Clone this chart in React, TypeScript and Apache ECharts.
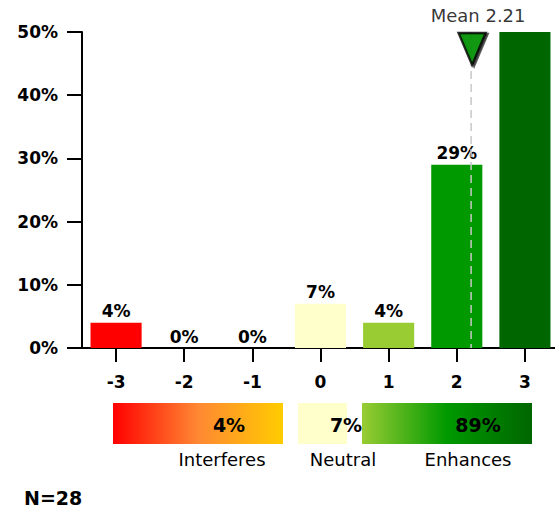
import React, { useEffect, useRef } from 'react';
import * as echarts from 'echarts';

// ---- data ----
const categories = ['-3', '-2', '-1', '0', '1', '2', '3'];
const percentValues = [4, 0, 0, 7, 4, 29, 57];
const meanValue = 2.21;
const summaryLabels = ['Interferes', 'Neutral', 'Enhances'];
const summaryValues = [4, 7, 89];
const sampleSize = 28;
const yMin = 0;
const yMax = 50;
const yInterval = 10;

// ---- styles ----
const barColors = ['#ff0000', '#ff6600', '#ffaa00', '#ffffcc', '#99cc33', '#009900', '#006600'];
const FONT = 'DejaVu Sans';

export default function App() {
  const ref = useRef<HTMLDivElement>(null);

  useEffect(() => {
    document.body.style.margin = '0';
    if (!ref.current) return;
    const chart = echarts.init(ref.current, null, { renderer: 'svg' });

    const barData = percentValues.map((v, i) => ({
      value: v,
      itemStyle: { color: barColors[i] },
      label: v > yMax ? { show: false } : undefined,
    }));

    const summaryBoxes = [
      { x: 113, w: 170, fill: new echarts.graphic.LinearGradient(0, 0, 1, 0, [
        { offset: 0, color: '#ff0000' },
        { offset: 0.5, color: '#ff8833' },
        { offset: 1, color: '#ffcc00' },
      ]), valueX: 229, labelX: 222 },
      { x: 298, w: 49, fill: '#ffffcc', valueX: 346, labelX: 343 },
      { x: 362, w: 170, fill: new echarts.graphic.LinearGradient(0, 0, 1, 0, [
        { offset: 0, color: '#99cc33' },
        { offset: 0.5, color: '#009900' },
        { offset: 1, color: '#006600' },
      ]), valueX: 478, labelX: 468 },
    ];

    const graphics: any[] = [];
    summaryBoxes.forEach((b) => {
      graphics.push({
        type: 'rect',
        shape: { x: b.x, y: 403, width: b.w, height: 41 },
        style: { fill: b.fill },
        z: 1,
      });
    });
    summaryBoxes.forEach((b, i) => {
      graphics.push({
        type: 'text',
        x: b.valueX,
        y: 425,
        style: {
          text: summaryValues[i] + '%',
          fontFamily: FONT,
          fontWeight: 'bold',
          fontSize: 19,
          fill: '#000',
          align: 'center',
          verticalAlign: 'middle',
        },
        z: 2,
      });
      graphics.push({
        type: 'text',
        x: b.labelX,
        y: 459,
        style: {
          text: summaryLabels[i],
          fontFamily: FONT,
          fontSize: 18,
          fill: '#000',
          align: 'center',
          verticalAlign: 'middle',
        },
        z: 2,
      });
    });
    graphics.push({
      type: 'text',
      x: 24,
      y: 498,
      style: {
        text: 'N=' + sampleSize,
        fontFamily: FONT,
        fontWeight: 'bold',
        fontSize: 19,
        fill: '#000',
        align: 'left',
        verticalAlign: 'middle',
      },
    });

    chart.setOption({
      animation: false,
      backgroundColor: '#ffffff',
      grid: { left: 82, top: 32, width: 477, height: 316, containLabel: false, outerBoundsMode: 'none' },
      xAxis: [
        {
          type: 'category',
          data: categories,
          axisLine: { show: true, onZero: false, lineStyle: { color: '#000', width: 2 } },
          axisTick: { show: true, alignWithLabel: true, length: 14, lineStyle: { color: '#000', width: 2 } },
          axisLabel: {
            margin: 25,
            color: '#000',
            fontFamily: FONT,
            fontWeight: 'bold',
            fontSize: 17,
          },
          splitLine: { show: false },
        },
        {
          type: 'value',
          min: -3.5,
          max: 3.5,
          show: false,
          splitLine: { show: false },
        },
      ],
      yAxis: {
        type: 'value',
        min: yMin,
        max: yMax,
        interval: yInterval,
        axisLine: { show: true, onZero: false, lineStyle: { color: '#000', width: 2 } },
        axisTick: { show: true, length: 15, lineStyle: { color: '#000', width: 2 } },
        axisLabel: {
          formatter: '{value}%',
          margin: 24,
          color: '#000',
          fontFamily: FONT,
          fontWeight: 'bold',
          fontSize: 17,
        },
        splitLine: { show: false },
      },
      series: [
        {
          type: 'bar',
          data: barData,
          barWidth: '75%',
          clip: true,
          label: {
            show: true,
            position: 'top',
            distance: 3,
            formatter: '{c}%',
            color: '#000',
            fontFamily: FONT,
            fontWeight: 'bold',
            fontSize: 17,
          },
        },
        {
          type: 'line',
          xAxisIndex: 1,
          data: [[meanValue, yMax], [meanValue, yMin]],
          symbol: 'none',
          lineStyle: { color: '#c8c8c8', width: 1.5, type: [8, 5] },
          z: 3,
        },
        {
          type: 'scatter',
          xAxisIndex: 1,
          data: [[meanValue, yMax]],
          symbol: 'triangle',
          symbolRotate: 180,
          symbolSize: [27, 32],
          symbolOffset: [1, 17],
          clip: false,
          itemStyle: {
            color: '#009900',
            borderColor: '#000',
            borderWidth: 2.5,
            shadowColor: 'rgba(0,0,0,0.8)',
            shadowBlur: 2,
            shadowOffsetX: 2,
            shadowOffsetY: 1,
          },
          label: {
            show: true,
            position: 'top',
            distance: 7,
            offset: [6, 0],
            formatter: 'Mean ' + meanValue.toFixed(2),
            color: '#000',
            fontFamily: FONT,
            fontSize: 18,
          },
          z: 4,
        },
      ],
      graphic: graphics,
    });

    return () => chart.dispose();
  }, []);

  return <div ref={ref} style={{ width: 555, height: 512 }} />;
}
